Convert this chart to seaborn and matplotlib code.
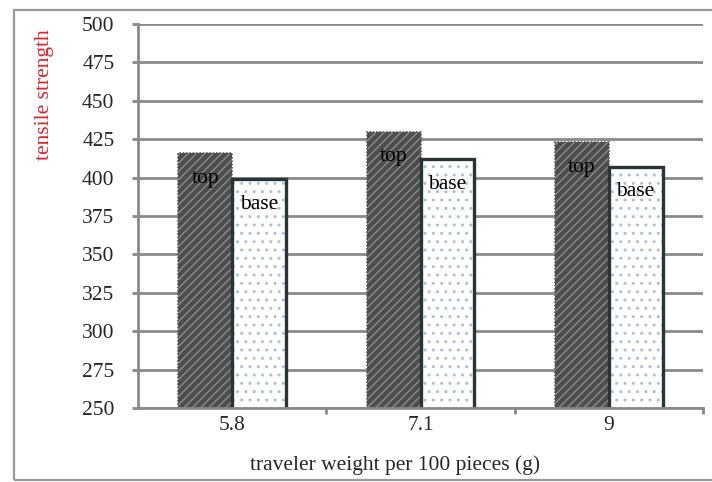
import numpy as np
import pandas as pd
import seaborn as sns
import matplotlib.pyplot as plt
from matplotlib.patches import Rectangle
from matplotlib.lines import Line2D

# ----------------------------- data ------------------------------
weights = ["5.8", "7.1", "9"]
top_vals = [416, 430, 423]
base_vals = [399, 412, 407]
positions = ["top", "base"]
y_ticks = [250, 275, 300, 325, 350, 375, 400, 425, 450, 475, 500]

df = pd.DataFrame({
    "weight": weights * 2,
    "strength": top_vals + base_vals,
    "position": ["top"] * len(weights) + ["base"] * len(weights),
})

# ----------------------------- style ------------------------------
sns.set_style("white")
plt.rcParams["font.family"] = ["Liberation Serif", "DejaVu Serif"]
plt.rcParams["hatch.linewidth"] = 1.0
grid_col = "#8a8a8a"
fs = 15.5

fig = plt.figure(figsize=(7.12, 4.82), dpi=100)
ax = fig.add_axes([138 / 712, 1 - 408 / 482, (703 - 138) / 712, (408 - 24) / 482])

sns.barplot(data=df, x="weight", y="strength", hue="position", order=weights,
            hue_order=positions, palette=["#4f4f4f", "white"], width=0.57,
            dodge=True, gap=0, legend=False, ax=ax)

ax.set_ylim(250, 500)
ax.set_xlim(-0.5, 2.5)
ax.set_yticks(y_ticks)
ax.set_axisbelow(True)
ax.yaxis.grid(True, color=grid_col, lw=2.0)
ax.xaxis.grid(False)

# top bars: dark with diagonal hatch
for p in ax.containers[0]:
    p.set_facecolor("#4d4d4d")
    p.set_edgecolor("#8c8c8c")
    p.set_hatch("////")
    p.set_linewidth(0)
    x0, w, h = p.get_x(), p.get_width(), p.get_height()
    ax.add_patch(Rectangle((x0, 250), w, h - 250, fill=False, ec="#5a5a5a",
                           lw=1.2, ls=(0, (1, 1)), zorder=p.get_zorder() + 0.1))

# base bars: white with light dotted hatch and dark outline
for p in ax.containers[1]:
    p.set_facecolor("white")
    p.set_edgecolor("#a9c0d8")
    p.set_hatch("..")
    p.set_linewidth(0)
    x0, w, h = p.get_x(), p.get_width(), p.get_height()
    ax.add_line(Line2D([x0, x0, x0 + w, x0 + w], [250, h, h, 250],
                       color="#263535", lw=2.4, zorder=p.get_zorder() + 0.2,
                       solid_joinstyle="miter"))

# labels inside bars
for cont, name in zip(ax.containers, positions):
    for p in cont:
        ax.annotate(name, (p.get_x() + p.get_width() / 2, p.get_height()),
                    xytext=(0, -18), textcoords="offset points",
                    ha="center", va="center", fontsize=fs, color="black",
                    zorder=5)

# axes lines and ticks
for s in ["top", "right"]:
    ax.spines[s].set_visible(False)
for s in ["left", "bottom"]:
    ax.spines[s].set_color(grid_col)
    ax.spines[s].set_linewidth(2.0)

ax.tick_params(axis="y", length=4, width=2.0, color=grid_col, pad=13,
               labelsize=fs, left=True)
ax.tick_params(axis="x", which="major", length=0, pad=6, labelsize=fs)
ax.set_xticks([0.5, 1.5, 2.5], minor=True)
ax.tick_params(axis="x", which="minor", length=4, width=2.0, color=grid_col,
               bottom=True)
ax.set_xlabel("")
ax.set_ylabel("")

fig.text(45 / 712, 1 - 95 / 482, "tensile strength", rotation=90,
         color="#e3202a", fontsize=fs, ha="center", va="center")
fig.text(395 / 712, 1 - 465 / 482, "traveler weight per 100 pieces (g)",
         fontsize=fs, ha="center", va="center")

# outer frame
fig.add_artist(Rectangle((14 / 712, 1 - 480 / 482), 0.99, (480 - 10) / 482,
                         transform=fig.transFigure, fill=False,
                         ec="#9a9a9a", lw=1.6))

fig.savefig("out.png", dpi=100)
